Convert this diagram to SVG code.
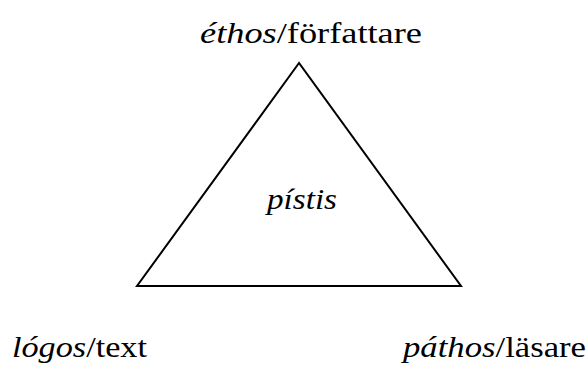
<svg xmlns="http://www.w3.org/2000/svg" width="587" height="366" viewBox="0 0 587 366">
<style>
text{font-family:"Liberation Serif","DejaVu Serif",serif;font-size:30px;fill:#000}
.i{font-style:italic}
</style>
<rect width="587" height="366" fill="#fff"/>
<g id="connectors">
<polygon points="299,63 137,286 461,286" fill="none" stroke="#000" stroke-width="2" stroke-linejoin="miter"/>
</g>
<g id="ethos"><text x="200" y="43" textLength="222" lengthAdjust="spacingAndGlyphs"><tspan class="i">éthos</tspan>/författare</text></g>
<g id="pistis"><text class="i" x="267" y="209" textLength="70" lengthAdjust="spacingAndGlyphs">pístis</text></g>
<g id="logos"><text x="12" y="357" textLength="135" lengthAdjust="spacingAndGlyphs"><tspan class="i">lógos</tspan>/text</text></g>
<g id="pathos"><text x="403" y="357" textLength="183" lengthAdjust="spacingAndGlyphs"><tspan class="i">páthos</tspan>/läsare</text></g>
</svg>
